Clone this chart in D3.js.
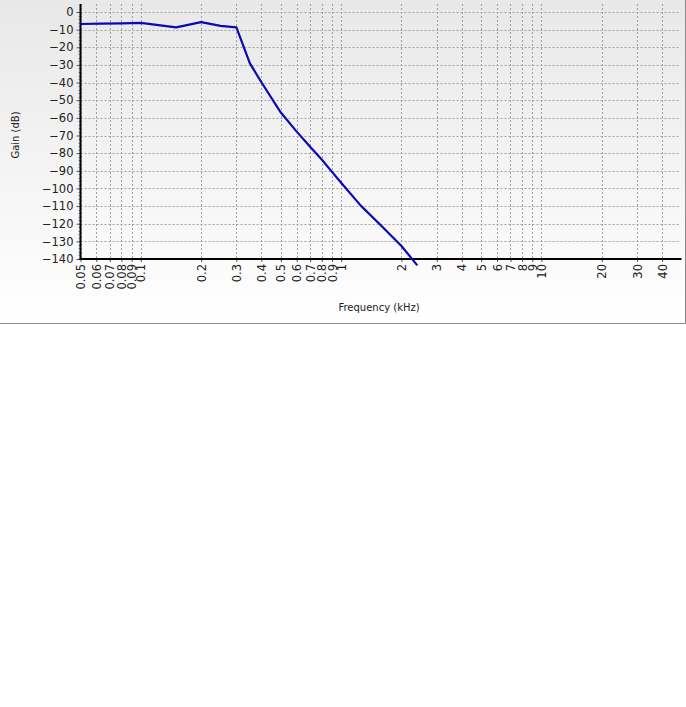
<!DOCTYPE html>
<html><head><meta charset="utf-8">
<script src="https://cdn.jsdelivr.net/npm/d3@7"></script>
<style>body{margin:0;background:#fff}svg{display:block}</style>
</head><body>
<script>
const freqs = [0.05, 0.063, 0.08, 0.1, 0.15, 0.2, 0.25, 0.3, 0.35, 0.4, 0.5, 0.6, 0.7, 0.8, 0.9, 1.0, 1.25, 1.6, 2.0, 2.4];
const gains = [-6.8, -6.6, -6.4, -6.2, -8.7, -5.7, -7.9, -8.7, -29, -39.8, -57, -67.8, -76.4, -83.6, -90.6, -96.8, -109.6, -121.6, -132.6, -143.6];
const xTicks = [0.05,0.06,0.07,0.08,0.09,0.1,0.2,0.3,0.4,0.5,0.6,0.7,0.8,0.9,1,2,3,4,5,6,7,8,9,10,20,30,40];
const yTicks = [0,-10,-20,-30,-40,-50,-60,-70,-80,-90,-100,-110,-120,-130,-140];
const xLabel = "Frequency (kHz)";
const yLabel = "Gain (dB)";

const W = 686, H = 707;
const panelW = 685, panelH = 323;
const left = 80.5, right = 681.5, plotTop = 4, y0 = 12, y1 = 259;
const font = "Tahoma, 'DejaVu Sans', sans-serif";

const svg = d3.select("body").append("svg").attr("width", W).attr("height", H);
const defs = svg.append("defs");
const grad = defs.append("linearGradient").attr("id","bg").attr("x1",0).attr("x2",0).attr("y1",0).attr("y2",1);
grad.append("stop").attr("offset","0%").attr("stop-color","#e8e8e8");
grad.append("stop").attr("offset","100%").attr("stop-color","#ffffff");
svg.append("rect").attr("x",0).attr("y",0).attr("width",panelW).attr("height",panelH).attr("fill","url(#bg)");
svg.append("path").attr("d",`M${panelW+0.5},0V${panelH+0.5}H0`).attr("fill","none").attr("stroke","#8a8a8a").attr("stroke-width",1);

const x = d3.scaleLog().domain([0.05, 50]).range([left, right]);
const y = d3.scaleLinear().domain([-140, 0]).range([y1, y0]);

// grid
const g = svg.append("g");
g.selectAll("line.v").data(xTicks).join("line")
  .attr("x1", d => Math.round(x(d)) + 0.5).attr("x2", d => Math.round(x(d)) + 0.5)
  .attr("y1", plotTop).attr("y2", y1)
  .attr("stroke", "#a0a0a0").attr("stroke-width", 1).attr("stroke-dasharray", "2,2");
g.selectAll("line.h").data(yTicks.filter(d => d !== -140)).join("line")
  .attr("x1", left).attr("x2", 680)
  .attr("y1", d => Math.round(y(d)) + 0.5).attr("y2", d => Math.round(y(d)) + 0.5)
  .attr("stroke", "#a0a0a0").attr("stroke-width", 1).attr("stroke-dasharray", "2,2");

// y axis
const yAxis = d3.axisLeft(y).tickValues(yTicks).tickSize(4).tickPadding(3);
const ya = svg.append("g").attr("transform", `translate(${left},0)`).call(yAxis);
ya.select(".domain").remove();
ya.selectAll("text").attr("font-family", font).attr("font-size", 11.5).attr("fill", "#222");
ya.selectAll("line").attr("stroke", "#555");
// minor y ticks
const minor = d3.range(-140, 1, 2).filter(d => d % 10 !== 0);
svg.append("g").selectAll("line").data(minor).join("line")
  .attr("x1", left - 2).attr("x2", left)
  .attr("y1", d => Math.round(y(d)) + 0.5).attr("y2", d => Math.round(y(d)) + 0.5)
  .attr("stroke", "#999");

// x axis
const xAxis = d3.axisBottom(x).tickValues(xTicks).tickFormat(d => String(d)).tickSize(3).tickPadding(2);
const xa = svg.append("g").attr("transform", `translate(0,${y1})`).call(xAxis);
xa.select(".domain").remove();
xa.selectAll("line").attr("stroke", "#555");
xa.selectAll("text")
  .attr("font-family", font).attr("font-size", 11.5).attr("fill", "#222")
  .attr("transform", "rotate(-90)")
  .attr("text-anchor", "end")
  .attr("x", -5).attr("y", 0).attr("dy", "0.35em");

// axis lines
svg.append("line").attr("x1", left).attr("x2", left).attr("y1", plotTop).attr("y2", y1 + 1)
  .attr("stroke", "#000").attr("stroke-width", 2);
svg.append("line").attr("x1", left - 1).attr("x2", right).attr("y1", y1).attr("y2", y1)
  .attr("stroke", "#000").attr("stroke-width", 2);

// curve
const data = freqs.map((f, i) => [f, gains[i]]);
svg.append("path").datum(data)
  .attr("d", d3.line().x(d => x(d[0])).y(d => y(d[1])))
  .attr("fill", "none").attr("stroke", "#0a0ab4").attr("stroke-width", 2.2).attr("stroke-linejoin", "round");

// titles
svg.append("text").text(xLabel).attr("x", 379).attr("y", 311)
  .attr("text-anchor", "middle").attr("font-family", font).attr("font-size", 10).attr("fill", "#222");
svg.append("text").text(yLabel).attr("transform", "translate(19,135) rotate(-90)")
  .attr("text-anchor", "middle").attr("font-family", font).attr("font-size", 10).attr("fill", "#222");
</script>
</body></html>
